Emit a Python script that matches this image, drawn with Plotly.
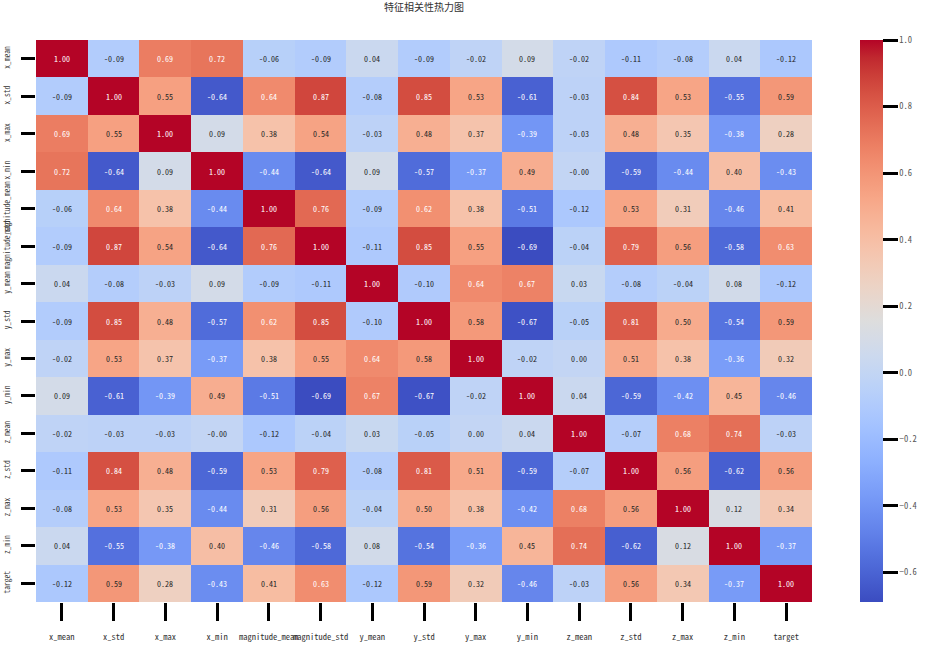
import plotly.graph_objects as go

# feature names (rows top->bottom, columns left->right)
features = ['x_mean', 'x_std', 'x_max', 'x_min', 'magnitude_mean', 'magnitude_std',
            'y_mean', 'y_std', 'y_max', 'y_min', 'z_mean', 'z_std', 'z_max', 'z_min', 'target']

# correlation rows
r_x_mean = [1.00, -0.09, 0.69, 0.72, -0.06, -0.09, 0.04, -0.09, -0.02, 0.09, -0.02, -0.11, -0.08, 0.04, -0.12]
r_x_std = [-0.09, 1.00, 0.55, -0.64, 0.64, 0.87, -0.08, 0.85, 0.53, -0.61, -0.03, 0.84, 0.53, -0.55, 0.59]
r_x_max = [0.69, 0.55, 1.00, 0.09, 0.38, 0.54, -0.03, 0.48, 0.37, -0.39, -0.03, 0.48, 0.35, -0.38, 0.28]
r_x_min = [0.72, -0.64, 0.09, 1.00, -0.44, -0.64, 0.09, -0.57, -0.37, 0.49, -0.0, -0.59, -0.44, 0.40, -0.43]
r_mag_mean = [-0.06, 0.64, 0.38, -0.44, 1.00, 0.76, -0.09, 0.62, 0.38, -0.51, -0.12, 0.53, 0.31, -0.46, 0.41]
r_mag_std = [-0.09, 0.87, 0.54, -0.64, 0.76, 1.00, -0.11, 0.85, 0.55, -0.69, -0.04, 0.79, 0.56, -0.58, 0.63]
r_y_mean = [0.04, -0.08, -0.03, 0.09, -0.09, -0.11, 1.00, -0.10, 0.64, 0.67, 0.03, -0.08, -0.04, 0.08, -0.12]
r_y_std = [-0.09, 0.85, 0.48, -0.57, 0.62, 0.85, -0.10, 1.00, 0.58, -0.67, -0.05, 0.81, 0.50, -0.54, 0.59]
r_y_max = [-0.02, 0.53, 0.37, -0.37, 0.38, 0.55, 0.64, 0.58, 1.00, -0.02, 0.00, 0.51, 0.38, -0.36, 0.32]
r_y_min = [0.09, -0.61, -0.39, 0.49, -0.51, -0.69, 0.67, -0.67, -0.02, 1.00, 0.04, -0.59, -0.42, 0.45, -0.46]
r_z_mean = [-0.02, -0.03, -0.03, -0.0, -0.12, -0.04, 0.03, -0.05, 0.00, 0.04, 1.00, -0.07, 0.68, 0.74, -0.03]
r_z_std = [-0.11, 0.84, 0.48, -0.59, 0.53, 0.79, -0.08, 0.81, 0.51, -0.59, -0.07, 1.00, 0.56, -0.62, 0.56]
r_z_max = [-0.08, 0.53, 0.35, -0.44, 0.31, 0.56, -0.04, 0.50, 0.38, -0.42, 0.68, 0.56, 1.00, 0.12, 0.34]
r_z_min = [0.04, -0.55, -0.38, 0.40, -0.46, -0.58, 0.08, -0.54, -0.36, 0.45, 0.74, -0.62, 0.12, 1.00, -0.37]
r_target = [-0.12, 0.59, 0.28, -0.43, 0.41, 0.63, -0.12, 0.59, 0.32, -0.46, -0.03, 0.56, 0.34, -0.37, 1.00]

corr = [r_x_mean, r_x_std, r_x_max, r_x_min, r_mag_mean, r_mag_std, r_y_mean, r_y_std,
        r_y_max, r_y_min, r_z_mean, r_z_std, r_z_max, r_z_min, r_target]

cbar_ticks = [-0.6, -0.4, -0.2, 0.0, 0.2, 0.4, 0.6, 0.8, 1.0]

# matplotlib-style coolwarm
cw = [(59, 76, 192), (68, 90, 204), (77, 104, 215), (87, 117, 225), (98, 130, 234), (108, 142, 241),
      (119, 154, 247), (130, 165, 251), (141, 176, 254), (152, 185, 255), (163, 194, 255), (174, 201, 253),
      (184, 208, 249), (194, 213, 244), (204, 217, 238), (213, 219, 230), (221, 221, 221), (229, 216, 209),
      (236, 211, 197), (241, 204, 185), (245, 196, 173), (247, 187, 160), (247, 177, 148), (247, 166, 135),
      (244, 154, 123), (241, 141, 111), (236, 127, 99), (229, 112, 88), (222, 96, 77), (213, 80, 66),
      (203, 62, 56), (192, 40, 47), (180, 4, 38)]
n = len(cw) - 1
colorscale = [[i / n, 'rgb(%d,%d,%d)' % c] for i, c in enumerate(cw)]

zmin = min(min(r) for r in corr)
zmax = 1.0


def cmap(v):
    t = (v - zmin) / (zmax - zmin)
    t = max(0.0, min(1.0, t)) * n
    i = min(int(t), n - 1)
    f = t - i
    return [cw[i][k] + (cw[i + 1][k] - cw[i][k]) * f for k in range(3)]


def lum(rgb):
    out = []
    for c in rgb:
        c = c / 255
        out.append(c / 12.92 if c <= 0.03928 else ((c + 0.055) / 1.055) ** 2.4)
    return 0.2126 * out[0] + 0.7152 * out[1] + 0.0722 * out[2]


mono = "Noto Sans Mono CJK SC, DejaVu Sans Mono, monospace"

fig = go.Figure(go.Heatmap(
    z=corr, x=features, y=features,
    colorscale=colorscale, zmin=zmin, zmax=zmax,
    hoverinfo='skip',
    colorbar=dict(
        x=(860 - 36) / 776, xanchor='left', xpad=0,
        y=0.5, yanchor='middle', len=1, ypad=0,
        thickness=23, outlinewidth=0,
        tickvals=cbar_ticks, tickformat='.1f', tickprefix='\u00a0',
        ticks='outside', ticklen=15, tickwidth=3, tickcolor='black',
        tickfont=dict(family=mono, size=8.5, color='#555555'),
    ),
))

annotations = []
for i, row in enumerate(corr):
    for j, v in enumerate(row):
        annotations.append(dict(
            x=features[j], y=features[i], text='%.2f' % v, showarrow=False,
            font=dict(family=mono, size=8, color='#262626' if lum(cmap(v)) > 0.408 else 'white'),
        ))

fig.update_layout(
    width=928, height=646,
    margin=dict(l=36, r=116, t=40, b=44, autoexpand=False),
    paper_bgcolor='white', plot_bgcolor='white',
    title=dict(text='特征相关性热力图', x=0.5, xref='paper', y=1 - 7 / 646, yanchor='middle',
               font=dict(family='Noto Sans CJK SC', size=10, color='#333333')),
    annotations=annotations,
)
fig.update_xaxes(
    showgrid=False, zeroline=False, showline=False, automargin=False,
    ticks='outside', ticklen=18, tickwidth=3, tickcolor='black',
    tickangle=0, ticklabelstandoff=9,
    tickfont=dict(family=mono, size=8.5, color='#333333'),
)
fig.update_yaxes(
    autorange='reversed', showgrid=False, zeroline=False, showline=False, automargin=False,
    ticks='outside', ticklen=14, tickwidth=3, tickcolor='black',
    tickangle=-90, ticklabelstandoff=8,
    tickfont=dict(family=mono, size=7.5, color='#333333'),
)

# page body has a default 8px margin; drop it so the figure fills the window
fig.write_html("out.html", config={'displayModeBar': False},
               post_script="document.body.style.margin='0';")
